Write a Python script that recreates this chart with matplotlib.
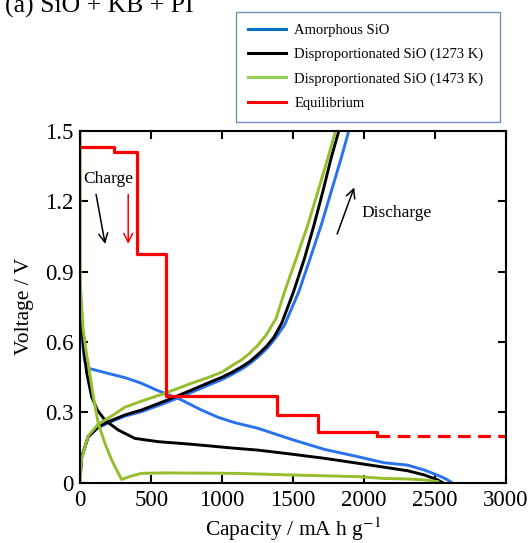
"""Charge/discharge curves of SiO electrodes with equilibrium potential steps."""

import matplotlib
matplotlib.use('Agg')
from matplotlib import pyplot as plt
from matplotlib.lines import Line2D

plt.rcParams['font.family'] = ['Liberation Serif', 'DejaVu Serif']
plt.rcParams['mathtext.fontset'] = 'stix'

# lithiation ("charge") curves, capacity in mA h/g and voltage in V
amo_chg_cap = [0, 5, 15, 30, 56, 120, 197, 315, 432, 526, 596, 713, 854, 971, 1089,
               1253, 1488, 1722, 1957, 2144, 2308, 2426, 2543, 2590, 2620]
amo_chg_v = [0.84, 0.72, 0.6, 0.52, 0.488, 0.478, 0.466, 0.448, 0.424, 0.398, 0.381,
             0.353, 0.31, 0.279, 0.256, 0.232, 0.185, 0.142, 0.111, 0.085, 0.075,
             0.054, 0.026, 0.012, 0.0]
d1273_chg_cap = [0, 10, 25, 45, 80, 120, 174, 267, 385, 549, 784, 1089, 1253, 1488,
                 1722, 1957, 2144, 2308, 2426, 2520, 2555]
d1273_chg_v = [0.80, 0.68, 0.57, 0.47, 0.367, 0.31, 0.267, 0.225, 0.189, 0.175, 0.164,
               0.147, 0.139, 0.122, 0.104, 0.083, 0.066, 0.051, 0.033, 0.012, 0.0]
d1473_chg_cap = [0, 0, 3, 21, 45, 56, 92, 127, 174, 221, 291, 362, 432, 600, 1089,
                 1488, 1957, 2144, 2308, 2426, 2520]
d1473_chg_v = [1.5, 0.86, 0.82, 0.65, 0.545, 0.51, 0.367, 0.253, 0.168, 0.097, 0.014,
               0.029, 0.04, 0.042, 0.04, 0.033, 0.026, 0.018, 0.016, 0.012, 0.005]

# delithiation ("discharge") curves
amo_dis_cap = [0, 10, 56, 127, 197, 315, 432, 596, 784, 900, 1000, 1077, 1140, 1200,
               1260, 1320, 1380, 1440, 1541, 1621, 1699, 1769, 1839, 1893]
amo_dis_v = [0.03, 0.11, 0.196, 0.235, 0.255, 0.284, 0.303, 0.339, 0.385, 0.415, 0.44,
             0.464, 0.485, 0.51, 0.54, 0.575, 0.62, 0.672, 0.815, 0.957, 1.099, 1.241,
             1.383, 1.5]
d1273_dis_cap = [0, 10, 56, 127, 197, 315, 432, 596, 784, 900, 1000, 1077, 1140, 1194,
                 1250, 1311, 1365, 1420, 1504, 1581, 1648, 1710, 1768, 1823]
d1273_dis_v = [0.03, 0.11, 0.196, 0.238, 0.26, 0.289, 0.31, 0.348, 0.395, 0.425, 0.45,
               0.473, 0.495, 0.516, 0.545, 0.58, 0.62, 0.68, 0.815, 0.957, 1.099, 1.241,
               1.383, 1.5]
d1473_dis_cap = [0, 8, 56, 127, 197, 315, 432, 596, 784, 900, 1000, 1077, 1140, 1194,
                 1250, 1311, 1380, 1441, 1523, 1604, 1675, 1745, 1800]
d1473_dis_v = [0.0, 0.1, 0.2, 0.25, 0.275, 0.322, 0.348, 0.381, 0.424, 0.448, 0.472,
               0.502, 0.525, 0.552, 0.585, 0.63, 0.70, 0.815, 0.957, 1.099, 1.241, 1.383,
               1.5]

# equilibrium potential steps
eq_cap = [0, 240, 401, 605, 1386, 1675, 2093]
eq_v = [1.43, 1.41, 0.974, 0.37, 0.289, 0.215, 0.2]
eq_ext_cap = [2093, 3000]
eq_ext_v = [0.2, 0.2]

c_blue = '#2a72f0'
c_black = '#000000'
c_green = '#96bd2c'
c_red = '#ff0000'
lw = 2.1

fig = plt.figure(figsize=(5.28, 5.43), dpi=100)
ax = fig.add_axes([0.152, 0.111, 0.806, 0.648])

ax.plot(amo_chg_cap, amo_chg_v, color=c_blue, lw=lw)
ax.plot(amo_dis_cap, amo_dis_v, color=c_blue, lw=lw)
ax.plot(d1273_chg_cap, d1273_chg_v, color=c_black, lw=lw)
ax.plot(d1273_dis_cap, d1273_dis_v, color=c_black, lw=lw)
ax.plot(d1473_chg_cap, d1473_chg_v, color=c_green, lw=lw)
ax.plot(d1473_dis_cap, d1473_dis_v, color=c_green, lw=lw)
ax.plot(eq_cap, eq_v, color=c_red, lw=2.3, drawstyle='steps-post')
ax.plot(eq_ext_cap, eq_ext_v, color=c_red, lw=2.3, dashes=(4, 2.3))

# arrows and notes
arrow = dict(arrowstyle='->', lw=1.1, mutation_scale=16)
ax.annotate('', xy=(179, 1.006), xytext=(108, 1.241),
            arrowprops=dict(arrow, color='black'))
ax.annotate('', xy=(338, 1.006), xytext=(338, 1.241),
            arrowprops=dict(arrow, color=c_red))
ax.annotate('', xy=(1938, 1.27), xytext=(1804, 1.049),
            arrowprops=dict(arrow, color='black'))
ax.text(195, 1.295, 'Charge', fontsize=12.5, ha='center', va='center')
ax.text(2232, 1.15, 'Discharge', fontsize=12.5, ha='center', va='center')

ax.set_xlim(0, 3000)
ax.set_ylim(0, 1.5)
ax.set_xticks(range(0, 3001, 500))
ax.set_yticks([0, 0.3, 0.6, 0.9, 1.2, 1.5])
ax.set_yticklabels(['0', '0.3', '0.6', '0.9', '1.2', '1.5'])
ax.tick_params(direction='in', length=6, width=1.5, labelsize=16.5,
               top=True, right=True, pad=5)
for s in ax.spines.values():
    s.set_linewidth(1.5)
ax.set_xlabel(r'Capacity / mA h g$^{-1}$', fontsize=15.5, labelpad=3.5)
ax.set_ylabel('Voltage / V', fontsize=15.5, labelpad=8)

fig.text(0.01, 1 - 13 / 543, '(a) SiO + KB + PI', fontsize=18.5,
         ha='left', va='baseline')

handles = [Line2D([], [], color='#0070c0', lw=2.2),
           Line2D([], [], color='black', lw=2.2),
           Line2D([], [], color='#92d050', lw=2.2),
           Line2D([], [], color=c_red, lw=2.2)]
labels = ['Amorphous SiO', 'Disproportionated SiO (1273 K)',
          'Disproportionated SiO (1473 K)', 'Equilibrium']
leg = fig.legend(handles, labels, loc='upper left',
                 bbox_to_anchor=(236 / 528, 1 - 123 / 543, 264 / 528, 111 / 543),
                 mode='expand', borderaxespad=0, fontsize=10.5, handlelength=2.6,
                 labelspacing=0.75, borderpad=0.8, handletextpad=0.6,
                 fancybox=False, framealpha=1)
leg.get_frame().set_edgecolor('#6f8fb4')
leg.get_frame().set_linewidth(1.0)

plt.savefig('out.png', dpi=100)
